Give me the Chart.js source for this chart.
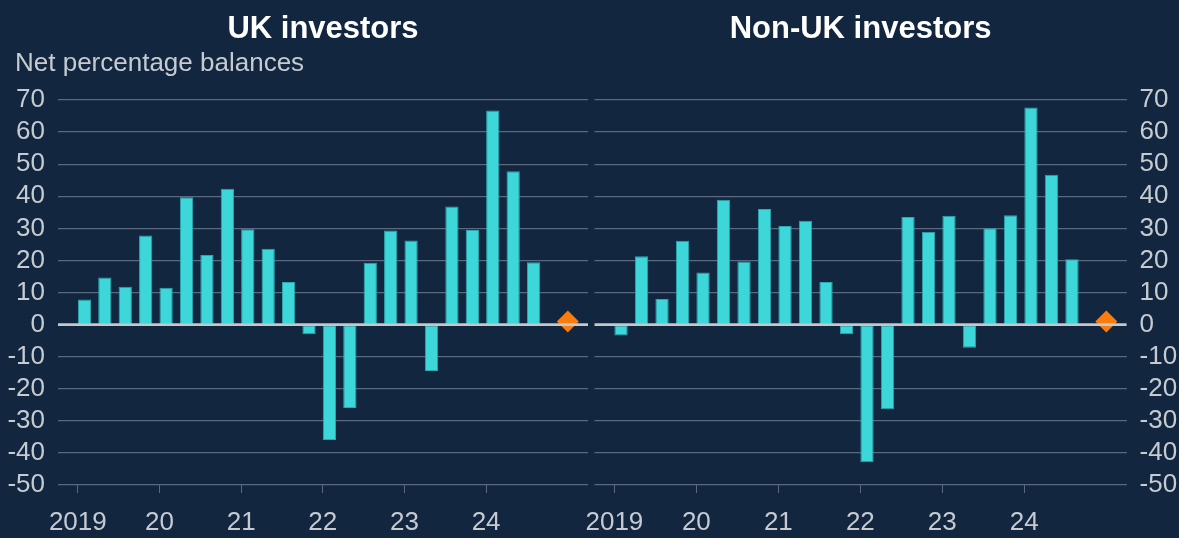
<!DOCTYPE html>
<html>
<head>
<meta charset="utf-8">
<script src="https://cdn.jsdelivr.net/npm/chart.js@4.4.1/dist/chart.umd.min.js"></script>
<style>
  html, body { margin: 0; padding: 0; background: #13263f; }
  body { width: 1179px; height: 538px; position: relative; overflow: hidden; }
  .wrap { position: absolute; top: 0; height: 538px; }
</style>
</head>
<body>
<div class="wrap" style="left:0;width:593px;"><canvas id="left"></canvas></div>
<div class="wrap" style="left:560px;width:619px;"><canvas id="right"></canvas></div>
<script>
// ---- Data ----
const QUARTERS = ['2019 Q1','2019 Q2','2019 Q3','2019 Q4',
                  '2020 Q1','2020 Q2','2020 Q3','2020 Q4',
                  '2021 Q1','2021 Q2','2021 Q3','2021 Q4',
                  '2022 Q1','2022 Q2','2022 Q3','2022 Q4',
                  '2023 Q1','2023 Q2','2023 Q3','2023 Q4',
                  '2024 Q1','2024 Q2','2024 Q3'];
const EXPECTATION_QUARTER = '2025 Q1';
const YEAR_LABELS = ['2019','20','21','22','23','24'];
const UK_VALUES = [7.8, 14.7, 11.8, 27.8, 11.5, 39.7, 21.7, 42.3, 29.7, 23.6, 13.3, -3.0,
                   -36.0, -26.0, 19.3, 29.3, 26.2, -14.5, 36.8, 29.5, 66.7, 47.8, 19.4];
const NON_UK_VALUES = [-3.4, 21.3, 8.0, 26.1, 16.2, 38.9, 19.7, 36.0, 30.7, 32.4, 13.3, -3.0,
                       -42.9, -26.4, 33.5, 28.9, 33.9, -7.2, 30.0, 34.1, 67.7, 46.7, 20.4];
const UK_EXPECTATION = 1.0;
const NON_UK_EXPECTATION = 1.0;
const Y_TICKS = [-50, -40, -30, -20, -10, 0, 10, 20, 30, 40, 50, 60, 70];
const SUBTITLE = 'Net percentage balances';

// ---- Helpers ----
function quarterIndex(q) {
  const [y, qq] = q.split(' Q');
  return (parseInt(y, 10) - 2019) * 4 + (parseInt(qq, 10) - 1);
}
const BAR_FRACTION = 0.65;                // bar width as share of a quarter
const BAR_SHIFT = BAR_FRACTION / 2;        // bars start at the quarter's start
const YEAR_TICKS = YEAR_LABELS.map((_, k) => k * 4);

const FONT = "'Liberation Sans', Arial, Helvetica, sans-serif";
const BAR = '#3dd7da';
const BAR_EDGE = '#2ba8b1';
const ORANGE = '#fb7c0a';
const GRID = '#5a697e';
const TEXT = '#c6cbd2';
const ZERO = '#c3c8ce';

const zeroLine = {
  id: 'zeroLine',
  afterDatasetsDraw(chart) {
    const y = chart.scales.y.getPixelForValue(0);
    const ctx = chart.ctx;
    ctx.save();
    ctx.strokeStyle = ZERO;
    ctx.lineWidth = 2.6;
    ctx.beginPath();
    ctx.moveTo(chart.chartArea.left, y);
    ctx.lineTo(chart.chartArea.right, y);
    ctx.stroke();
    ctx.restore();
  }
};

const unitNote = {
  id: 'unitNote',
  afterDraw(chart, args, opts) {
    if (!opts || !opts.text) return;
    const ctx = chart.ctx;
    ctx.save();
    ctx.font = `26px ${FONT}`;
    ctx.fillStyle = TEXT;
    ctx.textAlign = 'left';
    ctx.textBaseline = 'middle';
    ctx.fillText(opts.text, opts.x, opts.y);
    ctx.restore();
  }
};

function makeChart(canvasId, cfg) {
  const barData = QUARTERS.map((q, i) => ({ x: quarterIndex(q) + BAR_SHIFT, y: cfg.values[i] }));
  const expData = [{ x: quarterIndex(EXPECTATION_QUARTER), y: cfg.expectation }];
  return new Chart(document.getElementById(canvasId), {
    type: 'bar',
    data: {
      datasets: [
        {
          type: 'line',
          data: expData,
          showLine: false,
          pointStyle: 'rectRot',
          pointRadius: 11,
          pointBackgroundColor: ORANGE,
          pointBorderColor: ORANGE,
          pointBorderWidth: 0
        },
        {
          type: 'bar',
          data: barData,
          backgroundColor: BAR,
          borderColor: BAR_EDGE,
          borderWidth: 1,
          borderSkipped: false,
          barPercentage: BAR_FRACTION,
          categoryPercentage: 1
        }
      ]
    },
    options: {
      responsive: true,
      maintainAspectRatio: false,
      animation: false,
      devicePixelRatio: 1,
      layout: { padding: cfg.padding, autoPadding: false },
      plugins: {
        legend: { display: false },
        tooltip: { enabled: false },
        title: {
          display: true,
          text: cfg.title,
          fullSize: false,
          color: '#ffffff',
          font: { family: FONT, size: 31, weight: 'bold' },
          padding: { top: 11, bottom: 51.8 }
        },
        unitNote: cfg.note
      },
      scales: {
        x: {
          type: 'linear',
          offset: false,
          min: -0.97,
          max: 24.99,
          border: { display: false },
          grid: { display: true, offset: false, drawOnChartArea: false, drawTicks: true, tickLength: 8, color: GRID, lineWidth: 1 },
          afterBuildTicks: (scale) => { scale.ticks = YEAR_TICKS.map(v => ({ value: v })); },
          afterFit: (scale) => { scale.height = 53; scale.paddingLeft = 0; scale.paddingRight = 0; },
          ticks: {
            autoSkip: false,
            maxRotation: 0,
            minRotation: 0,
            padding: 14,
            color: TEXT,
            font: { family: FONT, size: 26 },
            callback: (v, idx) => YEAR_LABELS[idx]
          }
        },
        y: {
          type: 'linear',
          position: cfg.yPosition,
          min: -50,
          max: 70,
          border: { display: false },
          afterBuildTicks: (scale) => { scale.ticks = Y_TICKS.map(v => ({ value: v })); },
          afterFit: (scale) => { scale.width = cfg.yWidth; scale.paddingTop = 0; scale.paddingBottom = 0; },
          grid: {
            drawTicks: false,
            color: (c) => (c.tick && c.tick.value === 0) ? 'rgba(0,0,0,0)' : GRID,
            lineWidth: 1.2
          },
          ticks: {
            autoSkip: false,
            padding: 13,
            color: TEXT,
            font: { family: FONT, size: 26 },
            callback: (v) => String(v)
          }
        }
      }
    },
    plugins: [zeroLine, unitNote]
  });
}

makeChart('left', {
  title: 'UK investors',
  note: { text: SUBTITLE, x: 15, y: 64 },
  values: UK_VALUES,
  expectation: UK_EXPECTATION,
  yPosition: 'left',
  yWidth: 58,
  padding: { left: 0, right: 5, top: 0, bottom: 0 }
});

makeChart('right', {
  title: 'Non-UK investors',
  note: null,
  values: NON_UK_VALUES,
  expectation: NON_UK_EXPECTATION,
  yPosition: 'right',
  yWidth: 52.4,
  padding: { left: 34.5, right: 0, top: 0, bottom: 0 }
});
</script>
</body>
</html>
